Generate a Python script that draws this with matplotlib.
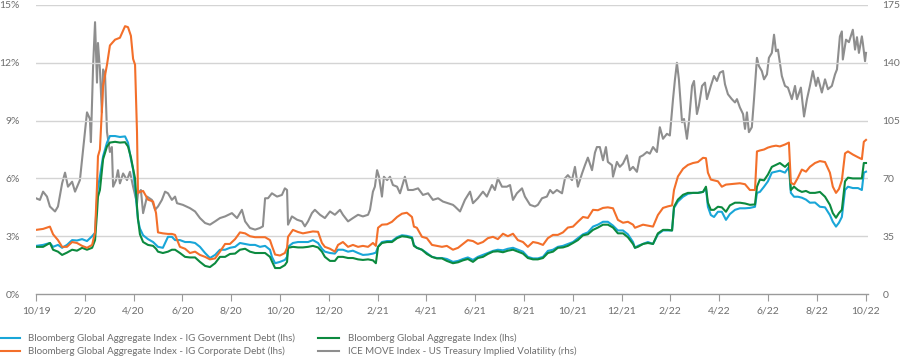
import matplotlib
matplotlib.use("Agg")
import matplotlib.pyplot as plt

plt.rcParams['font.family'] = ['Lato', 'DejaVu Sans']

# x axis: months from the start of the series, ticks every two months
tick_labels = ['10/19', '2/20', '4/20', '6/20', '8/20', '10/20', '12/20', '2/21', '4/21',
               '6/21', '8/21', '10/21', '12/21', '2/22', '4/22', '6/22', '8/22', '10/22']

# lhs series share one set of dates (months since start)
lhs_t = [0.00, 0.29, 0.57, 0.70, 0.90, 1.07, 1.27, 1.48, 1.68, 1.89, 2.09, 2.30, 2.42, 2.50, 2.54,
         2.62, 2.75, 2.91, 3.03, 3.24, 3.44, 3.65, 3.77, 3.89, 3.98, 4.06, 4.14, 4.18, 4.26, 4.39,
         4.59, 4.80, 4.92, 5.00, 5.20, 5.41, 5.57, 5.70,
         5.90, 6.11, 6.31, 6.52, 6.72, 6.93, 7.13, 7.34, 7.54, 7.75, 7.95, 8.16, 8.36, 8.57, 8.77,
         8.98, 9.18, 9.39, 9.59, 9.67, 9.80, 10.00, 10.20, 10.29, 10.33, 10.53, 10.74, 10.94, 11.15, 11.35,
         11.56, 11.72, 11.84, 12.05, 12.25, 12.38, 12.58, 12.79, 12.99, 13.20, 13.40, 13.61, 13.81, 13.93,
         14.02, 14.18, 14.39, 14.59, 14.80, 15.00, 15.20, 15.41, 15.49, 15.61, 15.82, 16.02, 16.23, 16.43,
         16.64, 16.84, 17.09,
         17.30, 17.50, 17.70, 17.91, 18.11, 18.32, 18.52, 18.73, 18.93, 19.14, 19.34, 19.55, 19.75, 19.96,
         20.16, 20.37, 20.57, 20.78, 20.98, 21.19, 21.39, 21.60, 21.80, 22.01, 22.21, 22.42, 22.62, 22.83,
         23.03, 23.24, 23.44, 23.65, 23.85, 24.06, 24.26, 24.47, 24.55, 24.67, 24.88, 25.08, 25.29, 25.49,
         25.70, 25.90, 26.07, 26.15, 26.31, 26.52, 26.72, 26.93, 27.13, 27.34, 27.46, 27.54, 27.66, 27.79,
         27.95, 28.11, 28.28, 28.44, 28.65,
         28.85, 29.06, 29.26, 29.47, 29.55, 29.67, 29.84, 30.00, 30.16, 30.33, 30.49, 30.70, 30.86, 30.94,
         31.07, 31.23, 31.39, 31.56, 31.72, 31.93, 32.13, 32.34, 32.54, 32.66, 32.79, 32.91, 33.03, 33.16,
         33.28, 33.48, 33.69, 33.85, 33.93, 34.02]

gov_debt = [2.50, 2.55, 2.65, 2.45, 2.55, 2.40, 2.55, 2.80, 2.78, 2.85, 2.75, 3.00, 3.18, 4.90, 5.57,
            6.10, 7.15, 7.86, 8.20, 8.20, 8.15, 8.18, 7.86, 7.00, 6.46, 5.50, 4.40, 3.85, 3.40, 3.05,
            2.85, 2.70, 2.55, 2.45, 2.40, 2.97, 2.97, 2.80,
            2.80, 2.70, 2.70, 2.65, 2.45, 2.13, 1.87, 2.03, 2.30, 2.30, 2.40, 2.45, 2.65, 2.60, 2.55,
            2.55, 2.45, 2.50, 2.30, 1.93, 1.60, 1.67, 1.77, 1.93, 2.45, 2.65, 2.70, 2.70, 2.70, 2.80,
            2.65, 2.35, 2.20, 2.13, 2.10, 2.30, 2.30, 2.20, 2.25, 2.13, 2.03, 2.05, 2.10, 2.15,
            2.45, 2.70, 2.75, 2.75, 2.95, 3.05, 3.02, 2.95, 2.55, 2.40, 2.30, 2.13, 1.93, 1.87,
            1.87, 1.82, 1.67,
            1.72, 1.82, 1.90, 1.77, 1.93, 2.03, 2.13, 2.24, 2.30, 2.27, 2.35, 2.40, 2.30, 2.20,
            1.93, 1.85, 1.85, 1.93, 2.24, 2.30, 2.45, 2.50, 2.60, 2.70, 2.90, 3.10, 3.20, 3.50,
            3.60, 3.75, 3.75, 3.55, 3.30, 3.30, 3.10, 2.70, 2.40, 2.50, 2.60, 2.70, 2.60, 3.10,
            3.30, 3.30, 3.30, 4.47, 4.80, 5.05, 5.20, 5.25, 5.25, 5.30, 5.50, 4.53, 4.10, 4.00,
            4.27, 4.27, 3.85, 4.15, 4.37,
            4.45, 4.45, 4.47, 4.53, 5.25, 5.30, 5.57, 5.85, 6.30, 6.35, 6.40, 6.30, 6.60, 5.25,
            5.05, 5.05, 5.00, 4.90, 4.74, 4.75, 4.53, 4.50, 4.10, 3.75, 3.50, 3.70, 4.00, 5.40,
            5.57, 5.50, 5.50, 5.40, 6.30, 6.35]

corp_debt = [3.33, 3.38, 3.50, 3.10, 2.80, 2.45, 2.45, 2.70, 2.65, 2.50, 2.40, 2.55, 3.20, 5.60, 7.15,
             7.50, 10.8, 11.9, 12.9, 13.2, 13.3, 13.9, 13.85, 13.4, 12.2, 11.9, 8.4, 5.25, 5.30, 5.35,
             4.90, 4.80, 4.20, 3.20, 3.15, 3.12, 3.12, 3.07,
             2.45, 2.35, 2.13, 2.20, 2.03, 1.93, 1.80, 1.85, 2.20, 2.60, 2.60, 2.85, 3.20, 3.15, 3.00,
             2.95, 2.95, 2.95, 2.80, 2.50, 2.05, 2.00, 2.13, 2.40, 2.97, 3.33, 3.22, 3.15, 3.20, 3.25,
             3.23, 2.65, 2.45, 2.35, 2.20, 2.55, 2.70, 2.45, 2.55, 2.45, 2.50, 2.45, 2.65, 2.50,
             3.44, 3.60, 3.62, 3.75, 4.00, 4.17, 4.22, 4.00, 3.50, 3.44, 2.97, 2.90, 2.55, 2.50,
             2.45, 2.50, 2.30,
             2.40, 2.60, 2.80, 2.75, 2.60, 2.70, 2.90, 2.97, 2.85, 3.13, 3.00, 3.13, 2.80, 2.70,
             2.45, 2.70, 2.65, 2.55, 2.90, 3.07, 3.07, 3.20, 3.45, 3.50, 3.75, 4.00, 3.95, 4.37,
             4.35, 4.47, 4.50, 4.45, 3.85, 3.70, 3.75, 3.60, 3.44, 3.50, 3.60, 3.55, 3.50, 4.10,
             4.47, 4.55, 4.60, 5.40, 6.10, 6.50, 6.70, 6.80, 6.85, 7.07, 7.05, 6.30, 5.94, 5.90,
             5.85, 5.57, 5.68, 5.70, 5.73,
             5.75, 5.70, 5.40, 5.40, 7.40, 7.45, 7.50, 7.60, 7.66, 7.70, 7.66, 7.76, 7.86, 5.78,
             5.68, 6.04, 6.46, 6.35, 6.60, 6.80, 6.90, 6.85, 6.30, 5.57, 5.25, 5.45, 5.90, 7.30,
             7.40, 7.24, 7.10, 7.00, 7.90, 8.00]

agg_index = [2.45, 2.45, 2.65, 2.30, 2.20, 2.03, 2.15, 2.30, 2.25, 2.40, 2.30, 2.40, 2.80, 4.20, 5.05,
             5.40, 7.00, 7.66, 7.86, 7.90, 7.86, 7.88, 7.66, 7.10, 6.50, 6.00, 4.53, 3.90, 3.10, 2.70,
             2.55, 2.50, 2.35, 2.20, 2.13, 2.20, 2.30, 2.30,
             2.13, 1.93, 1.90, 1.90, 1.67, 1.46, 1.40, 1.60, 1.93, 1.93, 2.08, 2.10, 2.30, 2.35, 2.20,
             2.13, 2.13, 2.13, 1.93, 1.70, 1.35, 1.35, 1.50, 1.67, 2.40, 2.45, 2.42, 2.42, 2.45, 2.50,
             2.42, 2.20, 1.93, 1.72, 1.72, 1.93, 1.93, 1.87, 1.87, 1.80, 1.77, 1.80, 1.75, 1.60,
             2.45, 2.65, 2.70, 2.70, 2.90, 3.00, 2.97, 2.90, 2.50, 2.40, 2.30, 2.08, 1.93, 1.85,
             1.85, 1.72, 1.60,
             1.65, 1.75, 1.82, 1.67, 1.87, 1.93, 2.08, 2.20, 2.22, 2.17, 2.25, 2.30, 2.20, 2.10,
             1.87, 1.80, 1.80, 1.87, 2.13, 2.20, 2.40, 2.42, 2.50, 2.65, 2.80, 3.05, 3.10, 3.33,
             3.45, 3.60, 3.60, 3.45, 3.15, 3.15, 2.95, 2.60, 2.40, 2.45, 2.60, 2.65, 2.60, 3.15,
             3.33, 3.33, 3.30, 4.53, 4.90, 5.15, 5.25, 5.25, 5.25, 5.30, 5.57, 4.74, 4.37, 4.37,
             4.53, 4.50, 4.27, 4.60, 4.74,
             4.74, 4.70, 4.63, 4.65, 5.57, 5.94, 5.90, 6.20, 6.60, 6.70, 6.80, 6.60, 6.80, 5.40,
             5.57, 5.40, 5.30, 5.35, 5.25, 5.25, 5.30, 5.05, 4.63, 4.20, 3.96, 4.20, 4.37, 5.85,
             6.04, 6.00, 6.00, 6.00, 6.80, 6.80]

# ICE MOVE index (rhs)
move_t = [0.00, 0.16, 0.29, 0.45, 0.57, 0.78, 0.90, 1.07, 1.19, 1.31, 1.48, 1.60, 1.80, 1.93, 2.09,
          2.21, 2.25, 2.34, 2.42, 2.50, 2.54, 2.62, 2.70, 2.75, 2.83, 2.91, 3.03, 3.11, 3.16, 3.28,
          3.36, 3.44, 3.57, 3.73, 3.85, 3.98, 4.14, 4.18, 4.30, 4.39, 4.55, 4.75, 4.88, 5.00, 5.16,
          5.29, 5.41, 5.57, 5.70, 5.78, 6.02, 6.31, 6.52, 6.72, 6.93, 7.13, 7.34, 7.54, 7.75, 8.03,
          8.24, 8.44, 8.57, 8.77, 8.98, 9.18, 9.30, 9.39, 9.51, 9.67, 9.88, 10.08, 10.20, 10.29, 10.33,
          10.49, 10.70, 10.90, 11.02, 11.15, 11.31, 11.43, 11.64, 11.84, 12.05, 12.25, 12.46, 12.58,
          12.79, 12.99, 13.20, 13.40, 13.61, 13.69, 13.81, 13.89, 13.98, 14.06, 14.18, 14.26, 14.39,
          14.51, 14.63, 14.80, 14.92, 15.12, 15.25, 15.45, 15.66, 15.86, 16.07, 16.27, 16.48, 16.68,
          16.89, 17.09, 17.17, 17.38, 17.58, 17.79, 17.91, 18.11, 18.32, 18.48, 18.69, 18.81, 18.93,
          19.10, 19.30, 19.43, 19.55, 19.71, 19.92, 20.04, 20.25, 20.45, 20.57, 20.74, 20.94, 21.07,
          21.19, 21.35, 21.56, 21.68, 21.80, 21.97, 22.09, 22.21, 22.38, 22.50, 22.62, 22.79, 22.91,
          22.99, 23.11, 23.24, 23.36, 23.44, 23.61, 23.65, 23.81, 23.93, 24.06, 24.22, 24.34, 24.47,
          24.63, 24.75, 24.88, 25.04, 25.16, 25.29, 25.45, 25.57, 25.70, 25.86, 25.98, 26.11, 26.19,
          26.27, 26.35, 26.48, 26.56, 26.68, 26.76, 26.89, 26.97, 27.09, 27.17, 27.30, 27.42, 27.50,
          27.66, 27.79, 27.91, 28.03, 28.16, 28.24, 28.36, 28.52, 28.65, 28.73, 28.85, 28.98, 29.06,
          29.14, 29.22, 29.34, 29.43, 29.55, 29.63, 29.75, 29.84, 29.96, 30.04, 30.16, 30.25, 30.33,
          30.41, 30.57, 30.70, 30.82, 30.98, 31.11, 31.19, 31.35, 31.48, 31.60, 31.72, 31.84, 31.97,
          32.05, 32.21, 32.34, 32.46, 32.62, 32.75, 32.83, 32.95, 33.03, 33.07, 33.20, 33.32, 33.48,
          33.57, 33.65, 33.73, 33.85, 33.89, 33.98, 34.02]

move_index = [58, 57, 62, 59, 53, 50, 53, 67, 73.5, 65, 68, 62, 69, 87.5, 110,
              106, 92, 138, 164.6, 128, 152, 136, 110, 136, 133, 98, 86, 89, 65, 69,
              75, 67, 73, 69, 74, 65, 55, 61, 63, 49, 59, 57, 51, 53, 57,
              62, 61, 57, 59, 55, 54, 52, 50, 46, 43, 42, 44, 46, 47, 49,
              46, 51, 44, 40, 39, 40, 41, 58, 58, 61, 59, 60, 64, 63, 42,
              47, 45, 44, 41, 44, 49, 51, 48, 46, 50, 48, 51, 48,
              44, 46, 48, 47, 48, 51, 62, 65, 75, 71, 59, 71, 69,
              71, 66, 65, 61, 71, 63, 63, 64, 60, 61, 57, 58, 56,
              55, 54, 53, 50, 57, 62, 55, 58, 62, 59, 66, 63, 70,
              65, 65, 66, 57, 61, 64, 59, 54, 53, 54, 58, 59, 63,
              61, 63, 61, 70, 72, 69, 77, 65, 73, 78, 82.6, 75, 85.6,
              89, 89, 81, 89, 80, 78, 71, 80, 77, 79, 84, 75, 77,
              74, 83, 84, 86, 85, 89, 86, 101, 94, 97, 96, 118, 130,
              140, 130, 104, 106, 94, 104, 126, 129, 109, 114, 126, 128, 118,
              126, 132, 129, 134, 135, 127, 121, 118, 116, 118, 113, 109, 100,
              110, 98, 101, 118, 143, 138, 135, 130, 133, 143, 146, 157, 147,
              148, 132, 126, 125, 118, 126, 118, 125, 107.5, 118, 126, 135, 126,
              131, 122, 130, 124, 126, 133, 136, 156, 159, 142, 154, 152.5, 160,
              148, 155.5, 146, 156, 152, 141, 146]

labels = ['Bloomberg Global Aggregate Index - IG Government Debt (lhs)',
          'Bloomberg Global Aggregate Index - IG Corporate Debt (lhs)',
          'Bloomberg Global Aggregate Index (lhs)',
          'ICE MOVE Index - US Treasury Implied Volatility (rhs)']

C_BLUE = '#19a6d8'
C_ORANGE = '#f36f2a'
C_GREEN = '#0c8a3f'
C_GRAY = '#8e8e8e'
TXT = '#6e6e6e'

fig = plt.figure(figsize=(9, 3.56), dpi=100)
ax = fig.add_axes([0.04, 0.174, 0.9244, 0.812])
ax2 = ax.twinx()
ax2.set_zorder(0)
ax.set_zorder(1)
ax.patch.set_visible(False)

lw = 1.5
l_gray, = ax2.plot(move_t, move_index, color=C_GRAY, lw=lw)
l_blue, = ax.plot(lhs_t, gov_debt, color=C_BLUE, lw=lw)
l_green, = ax.plot(lhs_t, agg_index, color=C_GREEN, lw=lw)
l_orange, = ax.plot(lhs_t, corp_debt, color=C_ORANGE, lw=lw)

ax.set_xlim(0, 34.1)
ax.set_ylim(0, 15)
ax2.set_ylim(0, 175)

ax.set_yticks(range(0, 16, 3))
ax.set_yticklabels(['%d%%' % v for v in range(0, 16, 3)])
ax2.set_yticks(range(0, 176, 35))
ax.set_xticks(range(0, 35, 2))
ax.set_xticklabels(tick_labels)

for g in range(3, 16, 3):
    ax.axhline(g, color='#d4d4d4', lw=1.0, zorder=0)

for a in (ax, ax2):
    for s in a.spines.values():
        s.set_visible(False)
ax.spines['bottom'].set_visible(True)
ax.spines['bottom'].set_color('#9a9a9a')
ax.spines['bottom'].set_linewidth(1.0)

ax.tick_params(axis='x', length=5, width=0.8, color='#9a9a9a', labelsize=7.5,
               labelcolor=TXT, pad=4)
ax.tick_params(axis='y', length=0, labelsize=7.5, labelcolor=TXT, pad=11.5)
ax2.tick_params(axis='y', length=0, labelsize=7.5, labelcolor=TXT, pad=10.5)

fig.legend([l_blue, l_orange, l_green, l_gray], labels, ncol=2, loc='upper left',
           bbox_to_anchor=(-0.002, 0.062), frameon=False, fontsize=7,
           labelcolor=TXT, handlelength=2.2, handletextpad=0.9, columnspacing=2.3,
           labelspacing=0.35, borderaxespad=0, borderpad=0)

fig.savefig('out.png', dpi=100)
